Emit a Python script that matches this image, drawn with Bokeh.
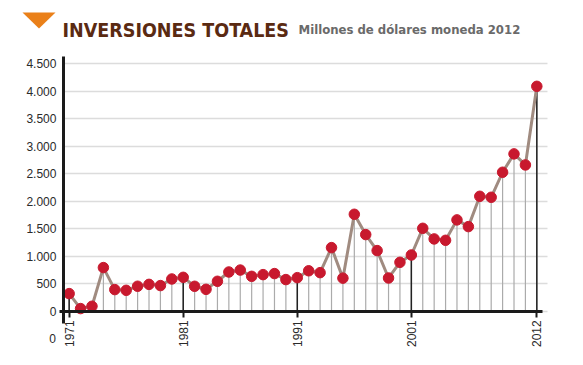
import math
from bokeh.plotting import figure
from bokeh.models import Range1d, FixedTicker, Label, PolyAnnotation
from bokeh.embed import file_html
from bokeh.resources import INLINE

# ---- data ----
years = list(range(1971, 2013))
values = [322, 50, 92, 795, 395, 382, 456, 490, 468, 588, 618, 455, 400, 546, 715, 750,
          636, 667, 686, 577, 612, 737, 703, 1158, 603, 1764, 1395, 1104, 606, 891, 1024,
          1509, 1316, 1291, 1662, 1540, 2091, 2073, 2528, 2862, 2661, 4090]
x_ticks = [1971, 1981, 1991, 2001, 2012]
y_ticks = [0, 500, 1000, 1500, 2000, 2500, 3000, 3500, 4000, 4500]
y_tick_labels = ["0", "500", "1.000", "1.500", "2.000", "2.500", "3.000", "3.500", "4.000", "4.500"]
title_text = "INVERSIONES TOTALES"
subtitle_text = "Millones de dólares moneda 2012"
stray_label = "0"

W, H = 567, 349
# frame covers the whole canvas; axes are pinned inside it
p = figure(width=W, height=H, output_backend="svg", toolbar_location=None,
           x_range=Range1d(1964.98, 2014.69), y_range=Range1d(-694, 5650),
           min_border_left=0, min_border_right=0, min_border_top=0, min_border_bottom=0)
p.outline_line_color = None
p.background_fill_color = "white"
p.border_fill_color = "white"

AX_X = 1970.5  # where the value axis sits

# grid
p.xgrid.grid_line_color = None
p.ygrid.ticker = FixedTicker(ticks=y_ticks)
p.ygrid.grid_line_color = "#dcdcdc"
p.ygrid.grid_line_width = 1.3
grid = p.ygrid[0]
if "cross_bounds" in grid.properties():
    grid.cross_bounds = (AX_X, 2012.94)
else:
    grid.grid_line_color = None
    p.segment(x0=[AX_X] * len(y_ticks), y0=y_ticks, x1=[2012.94] * len(y_ticks), y1=y_ticks,
              line_color="#dcdcdc", line_width=1.3, level="underlay")

# y axis
p.yaxis.fixed_location = AX_X
p.yaxis.bounds = (-230, 4633)
p.yaxis.ticker = FixedTicker(ticks=y_ticks)
p.yaxis.major_label_overrides = {t: l for t, l in zip(y_ticks, y_tick_labels)}
p.yaxis.axis_line_color = "#1a1a1a"
p.yaxis.axis_line_width = 3
p.yaxis.major_tick_line_color = None
p.yaxis.major_tick_out = 0
p.yaxis.major_tick_in = 0
p.yaxis.minor_tick_line_color = None
p.yaxis.major_label_text_font = "Liberation Sans"
p.yaxis.major_label_text_font_size = "12px"
p.yaxis.major_label_text_color = "#2a2a2a"
p.yaxis.major_label_standoff = 7

# x axis
p.xaxis.fixed_location = 0
p.xaxis.bounds = (1970.15, 2012.5)
p.xaxis.ticker = FixedTicker(ticks=x_ticks)
p.xaxis.axis_line_color = "#1a1a1a"
p.xaxis.axis_line_width = 3
p.xaxis.major_tick_line_color = "#1a1a1a"
p.xaxis.major_tick_line_width = 2
p.xaxis.major_tick_in = 0
p.xaxis.major_tick_out = 6
p.xaxis.minor_tick_line_color = None
p.xaxis.major_label_orientation = math.pi / 2
p.xaxis.major_label_text_font = "Liberation Sans"
p.xaxis.major_label_text_font_size = "12px"
p.xaxis.major_label_text_color = "#2a2a2a"
p.xaxis.major_label_standoff = 3

# drop lines
p.segment(x0=years, y0=[0] * len(years), x1=years, y1=values,
          line_color="#ababab", line_width=1.2)
tick_vals = [values[years.index(y)] for y in x_ticks]
p.segment(x0=x_ticks, y0=[0] * len(x_ticks), x1=x_ticks, y1=tick_vals,
          line_color="#222222", line_width=1.5)

# series
p.line(years, values, line_color="#a08b80", line_width=3)
p.scatter(years, values, size=10.5, fill_color="#c8192e", line_color="#c8192e")

# title block (screen units: x from left, y up from bottom)
def sy(y):
    return H - y

p.add_layout(PolyAnnotation(xs=[22, 55, 38.5], ys=[sy(12), sy(12), sy(28)],
                            xs_units="screen", ys_units="screen",
                            fill_color="#ea8019", fill_alpha=1, line_color=None))
p.add_layout(Label(x=62, y=sy(29.5), x_units="screen", y_units="screen", text=title_text,
                   text_font="Liberation Sans Narrow, DejaVu Sans Condensed, Liberation Sans",
                   text_font_style="bold", text_font_size="19.5px", text_color="#5a2a12",
                   text_baseline="alphabetic"))
p.add_layout(Label(x=298, y=sy(28.5), x_units="screen", y_units="screen", text=subtitle_text,
                   text_font="Liberation Sans Narrow, DejaVu Sans Condensed, Liberation Sans",
                   text_font_style="bold", text_font_size="13px", text_color="#6a6a6a",
                   text_baseline="alphabetic"))
p.add_layout(Label(x=52, y=sy(338), x_units="screen", y_units="screen", text=stray_label,
                   text_font="Liberation Sans", text_font_size="12px", text_color="#2a2a2a",
                   text_align="center", text_baseline="middle"))

open("out.html", "w").write(file_html(p, INLINE))
